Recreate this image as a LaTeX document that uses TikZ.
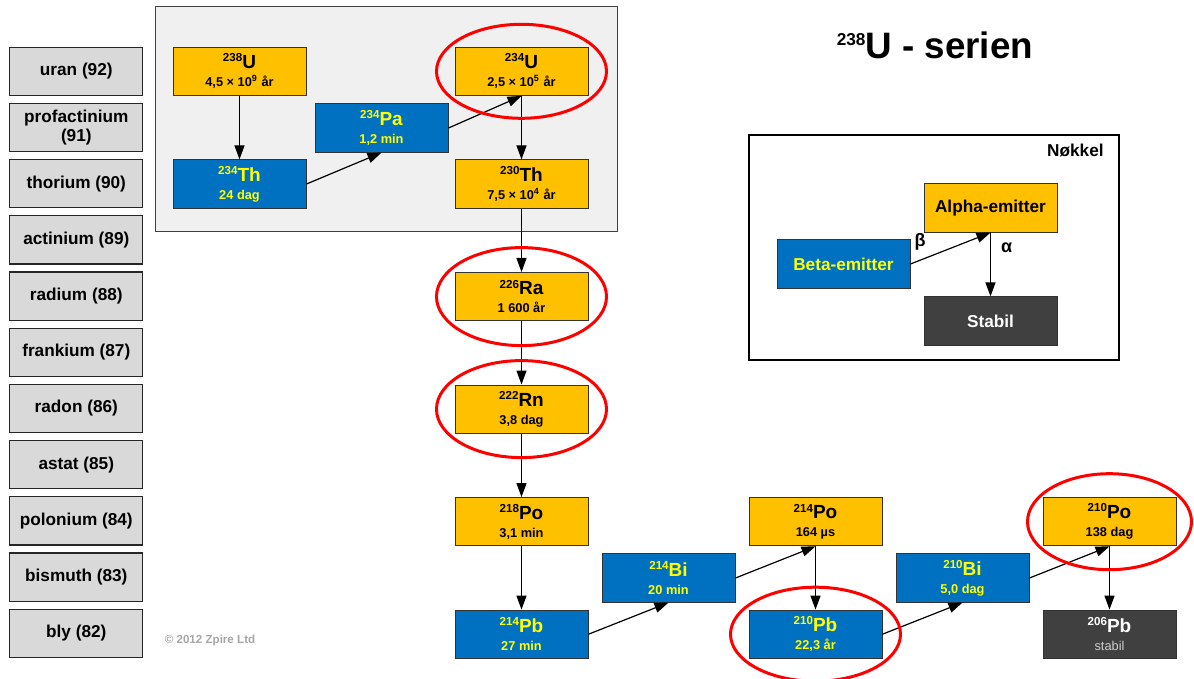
\documentclass[tikz,border=0pt]{standalone}
\usepackage{fontspec}
\setmainfont{Liberation Sans}
\usetikzlibrary{positioning, arrows.meta}

\definecolor{alphaorange}{HTML}{FFC000}
\definecolor{betablue}{HTML}{0070C0}
\definecolor{stabledark}{HTML}{404040}
\definecolor{labelgray}{HTML}{D9D9D9}
\definecolor{panelgray}{HTML}{F0F0F0}
\definecolor{betatext}{HTML}{FFFF00}
\definecolor{notegray}{HTML}{A6A6A6}

\newcommand{\nuc}[2]{\raisebox{3.4pt}{\fontsize{5.8}{6}\selectfont #1}{\fontsize{9.5}{10}\selectfont #2}}

\begin{document}
\begin{tikzpicture}[
x=0.5pt, y=-0.5pt,
>={Triangle[length=7pt,width=5pt]},
element/.style={rectangle, draw=black!85, fill=labelgray, line width=0.6pt, minimum width=66.5pt, minimum height=24.1pt, align=center, font=\fontsize{8.6}{9.5}\selectfont\bfseries, inner sep=1pt},
alphanode/.style={rectangle, draw=black!80, fill=alphaorange, line width=0.5pt, minimum width=66.5pt, minimum height=24.1pt, align=center, font=\fontsize{6.4}{9}\selectfont\bfseries, inner sep=1pt},
betanode/.style={alphanode, fill=betablue, text=betatext},
stablenode/.style={alphanode, fill=stabledark, text=white},
keynode/.style={font=\fontsize{8.6}{10}\selectfont\bfseries},
decay/.style={->, line width=0.6pt},
halo/.style={draw=red, line width=1.5pt},
node distance=3.4pt
]
\useasboundingbox (0,0) rectangle (1194,679);

%Panel
\draw[fill=panelgray, draw=black!75, line width=0.5pt] (155,7) rectangle (617,232);

%Elements
\node[element]   (uran)     at (76.3,71.3)       {uran (92)};
\node[element]   (prot)     [below=of uran]      {profactinium\\(91)};
\node[element]   (thor)     [below=of prot]      {thorium (90)};
\node[element]   (acti)     [below=of thor]      {actinium (89)};
\node[element]   (radi)     [below=of acti]      {radium (88)};
\node[element]   (fran)     [below=of radi]      {frankium (87)};
\node[element]   (rado)     [below=of fran]      {radon (86)};
\node[element]   (asta)     [below=of rado]      {astat (85)};
\node[element]   (polo)     [below=of asta]      {polonium (84)};
\node[element]   (bism)     [below=of polo]      {bismuth (83)};
\node[element]   (bly)      [below=of bism]      {bly (82)};

%Nuclides
\node[alphanode]  (U238)   at (239.5,71.3)   {\nuc{238}{U}\\4,5 × 10\textsuperscript{9} år};
\node[betanode]   (Th234)  at (239.5,184)    {\nuc{234}{Th}\\24 dag};
\node[betanode]   (Pa234)  at (381.5,128)    {\nuc{234}{Pa}\\1,2 min};
\node[alphanode]  (U234)   at (521.5,71.3)   {\nuc{234}{U}\\2,5 × 10\textsuperscript{5} år};
\node[alphanode]  (Th230)  at (521.5,184)    {\nuc{230}{Th}\\7,5 × 10\textsuperscript{4} år};
\node[alphanode]  (Ra226)  at (521.5,296.6)  {\nuc{226}{Ra}\\1 600 år};
\node[alphanode]  (Rn222)  at (521.5,409.1)  {\nuc{222}{Rn}\\3,8 dag};
\node[alphanode]  (Po218)  at (521.5,521.7)  {\nuc{218}{Po}\\3,1 min};
\node[betanode]   (Pb214)  at (521.5,634.2)  {\nuc{214}{Pb}\\27 min};
\node[betanode]   (Bi214)  at (668.5,578)    {\nuc{214}{Bi}\\20 min};
\node[alphanode]  (Po214)  at (815.5,521.7)  {\nuc{214}{Po}\\164 µs};
\node[betanode]   (Pb210)  at (815.5,634.2)  {\nuc{210}{Pb}\\22,3 år};
\node[betanode]   (Bi210)  at (962.5,578)    {\nuc{210}{Bi}\\5,0 dag};
\node[alphanode]  (Po210)  at (1109.5,521.7) {\nuc{210}{Po}\\138 dag};
\node[stablenode] (Pb206)  at (1109.5,634.2) {\nuc{206}{Pb}\\{\mdseries\color{black!20}stabil}};

%Decays
\draw[decay] (U238.south) -- (Th234.north);
\draw[decay] (Th234.east) -- (Pa234.south);
\draw[decay] (Pa234.east) -- (U234.south);
\draw[decay] (U234.south) -- (Th230.north);
\draw[decay] (Th230.south) -- (Ra226.north);
\draw[decay] (Ra226.south) -- (Rn222.north);
\draw[decay] (Rn222.south) -- (Po218.north);
\draw[decay] (Po218.south) -- (Pb214.north);
\draw[decay] (Pb214.east) -- (Bi214.south);
\draw[decay] (Bi214.east) -- (Po214.south);
\draw[decay] (Po214.south) -- (Pb210.north);
\draw[decay] (Pb210.east) -- (Bi210.south);
\draw[decay] (Bi210.east) -- (Po210.south);
\draw[decay] (Po210.south) -- (Pb206.north);

%Rings
\draw[halo] (U234)  ellipse [x radius=85, y radius=47];
\draw[halo] (Ra226) ellipse [x radius=85, y radius=49];
\draw[halo] (Rn222) ellipse [x radius=85, y radius=48.5];
\draw[halo] (Pb210) ellipse [x radius=85, y radius=47];
\draw[halo] (Po210) ellipse [x radius=82, y radius=48];

%Title
\node[font=\fontsize{18.4}{20}\selectfont\bfseries] (title) at (935,45) {\raisebox{6.5pt}{\fontsize{8.6}{9}\selectfont 238}U - serien};

%Key
\node[draw=black, fill=white, line width=1pt, minimum width=185pt, minimum height=112.5pt] (keybox) at (934,247.5) {};
\node[keynode, inner sep=0pt] (keytitle) [below left=5pt and 8pt of keybox.north east] {Nøkkel};
\node[alphanode, keynode]  (keyalpha)  at (990.5,208) {Alpha-emitter};
\node[betanode, keynode]   (keybeta)   at (843.5,264) {Beta-emitter};
\node[stablenode, keynode] (keystable) at (990.5,321) {Stabil};
\draw[decay] (keybeta.east) -- node[pos=0.12, above=3.5pt, font=\fontsize{9}{10}\selectfont\bfseries, inner sep=1pt] {β} (keyalpha.south);
\draw[decay] (keyalpha.south) -- node[pos=0.23, right=4pt, font=\fontsize{9}{10}\selectfont\bfseries, inner sep=1pt] {α} (keystable.north);

%Copyright
\node[text=notegray, font=\fontsize{5.8}{6}\selectfont\bfseries] (copy) at (210,640) {© 2012 Zpire Ltd};
\end{tikzpicture}
\end{document}
